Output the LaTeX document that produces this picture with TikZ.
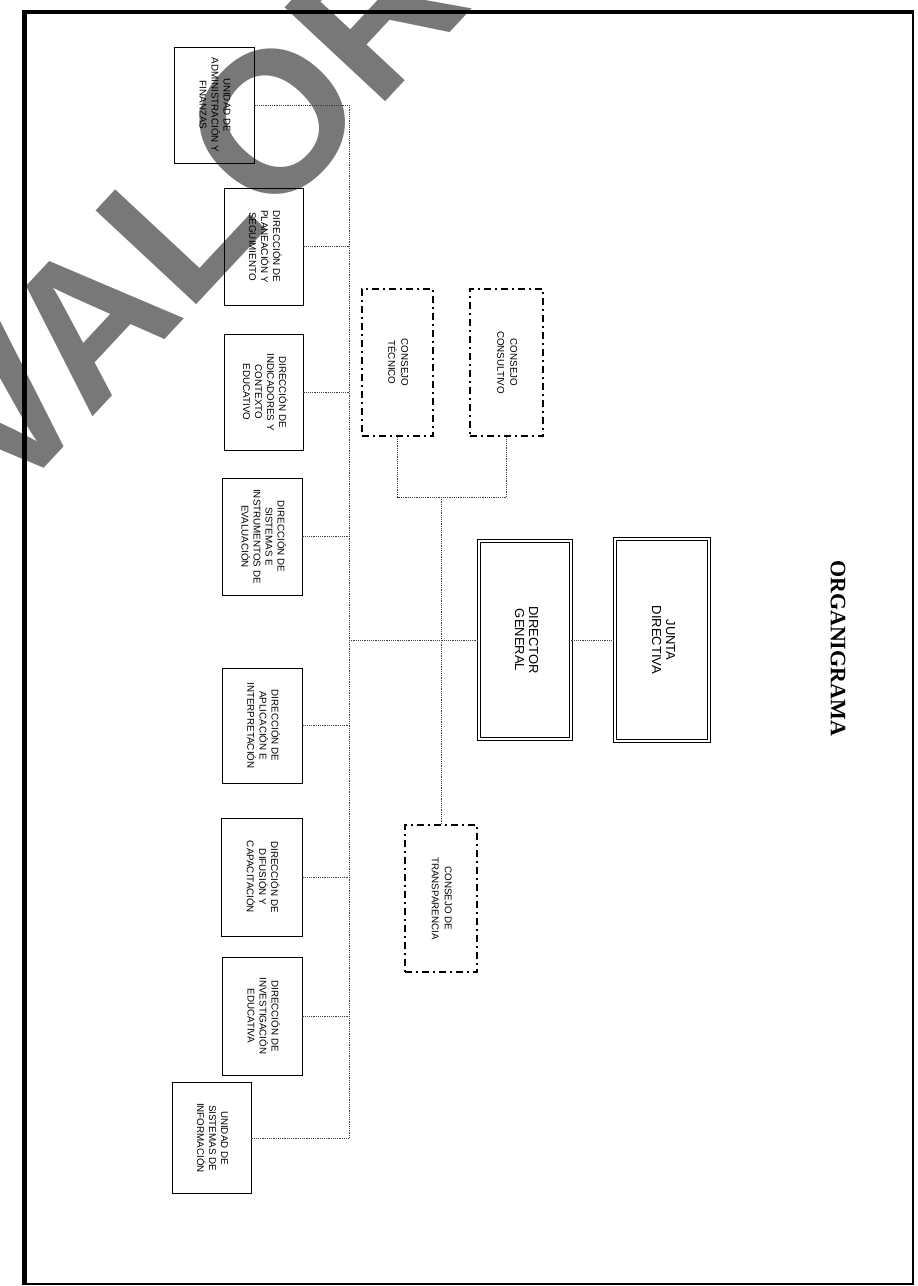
\documentclass[tikz,border=0pt]{standalone}
\usepackage{fontspec}
\setmainfont{Liberation Sans}
\newfontfamily\titlefont{Liberation Serif}
\newfontfamily\wmfont{Liberation Sans}
\usepackage{graphicx}
\newcommand\rtxt[1]{\rotatebox{-90}{\begin{tabular}{@{}c@{}}#1\end{tabular}}}
\begin{document}
\begin{tikzpicture}[x=1pt,y=-1pt,
  unitbox/.style={draw=black, line width=0.9pt, inner sep=0pt, font=\fontsize{9.8}{12}\selectfont},
  consejobox/.style={draw=black, line width=1.3pt, dash pattern=on 7pt off 4pt on 2pt off 4pt, inner sep=0pt, font=\fontsize{9.8}{13}\selectfont},
  mainbox/.style={draw=black, double=white, double distance=1.6pt, line width=0.8pt, inner sep=0pt, font=\fontsize{13}{14}\selectfont},
  link/.style={draw=black!75, line width=0.6pt, dash pattern=on 1.2pt off 1pt},
  frameline/.style={draw=black}
]
\useasboundingbox (0,0) rectangle (918,1286);
\fill[white] (0,0) rectangle (918,1286);

% watermark (behind everything)
\begin{scope}
\clip (0,0) rectangle (918,1286);
\node[rotate=47, anchor=base west, inner sep=0pt, text=black!53, font=\wmfont\bfseries\fontsize{200}{200}\selectfont] (wm) at (8,507) {VALOR};
\end{scope}

% frame
\draw[frameline, line width=5pt] (24,10) -- (24,1285);
\draw[frameline, line width=4pt] (22,12) -- (914,12);
\draw[frameline, line width=2.2pt] (913,12) -- (913,1285);
\draw[frameline, line width=1.6pt] (24,1284) -- (913,1284);

% bus coordinate
\coordinate (bus) at (349,0);
\coordinate (jn) at (0,497);

% left column units
\node[unitbox, minimum width=80pt, minimum height=116pt] (admin) at (214,105) {\rtxt{UNIDAD DE\\ADMINISTRACIÓN Y\\FINANZAS}};
\node[unitbox, minimum width=79pt, minimum height=117pt] (plan) at (263.5,246.5) {\rtxt{DIRECCIÓN DE\\PLANEACIÓN Y\\SEGUIMIENTO}};
\node[unitbox, minimum width=79pt, minimum height=116pt] (indic) at (263.5,392) {\rtxt{DIRECCIÓN DE\\INDICADORES Y\\CONTEXTO\\EDUCATIVO}};
\node[unitbox, minimum width=80pt, minimum height=117pt] (sist) at (262,536.5) {\rtxt{DIRECCIÓN DE\\SISTEMAS E\\INSTRUMENTOS DE\\EVALUACIÓN}};
\node[unitbox, minimum width=80pt, minimum height=115pt] (aplic) at (262,725.5) {\rtxt{DIRECCIÓN DE\\APLICACIÓN E\\INTERPRETACIÓN}};
\node[unitbox, minimum width=81pt, minimum height=118pt] (difus) at (261.5,877) {\rtxt{DIRECCIÓN DE\\DIFUSIÓN Y\\CAPACITACIÓN}};
\node[unitbox, minimum width=80pt, minimum height=118pt] (invest) at (262,1016) {\rtxt{DIRECCIÓN DE\\INVESTIGACIÓN\\EDUCATIVA}};
\node[unitbox, minimum width=79pt, minimum height=111pt] (usinf) at (211.5,1138) {\rtxt{UNIDAD DE\\SISTEMAS DE\\INFORMACIÓN}};

% consejos
\node[consejobox, minimum width=71pt, minimum height=147pt] (tecnico) at (397.5,362.5) {\rtxt{CONSEJO\\TÉCNICO}};
\node[consejobox, minimum width=73pt, minimum height=147pt] (consul) at (506.5,362.5) {\rtxt{CONSEJO\\CONSULTIVO}};
\node[consejobox, minimum width=72pt, minimum height=147pt] (transp) at (441,898.5) {\rtxt{CONSEJO DE\\TRANSPARENCIA}};

% main boxes
\node[mainbox, minimum width=92pt, minimum height=198pt] (dg) at (525,640) {\rtxt{DIRECTOR\\GENERAL}};
\node[mainbox, minimum width=94pt, minimum height=202pt] (jd) at (662,640) {\rtxt{JUNTA\\DIRECTIVA}};

% title
\node[inner sep=0pt, font=\titlefont\bfseries\fontsize{22}{24}\selectfont] (title) at (838,648) {\rotatebox{-90}{ORGANIGRAMA}};

% connectors
\draw[link] (admin.east -| bus) -- (usinf.east -| bus);
\foreach \u in {admin,plan,indic,sist,aplic,difus,invest,usinf}{
  \draw[link] (\u.east) -- (\u.east -| bus);
}
\draw[link] (dg.west -| bus) -- (dg.west);
\draw[link] (dg.east) -- (jd.west);
\draw[link] (tecnico.south) -- (tecnico.south |- jn) -- (consul.south |- jn) -- (consul.south);
\draw[link] (transp.north |- jn) -- (transp.north);
\end{tikzpicture}
\end{document}
